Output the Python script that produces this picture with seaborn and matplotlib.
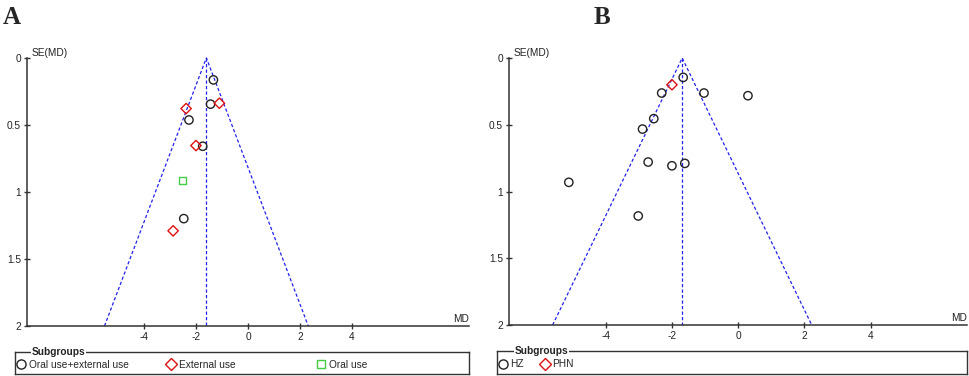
import numpy as np
import pandas as pd
import seaborn as sns
import matplotlib.pyplot as plt
from matplotlib.lines import Line2D

# panel A: mean difference vs standard error, by subgroup
md_a = [-1.33, -1.44, -2.27, -1.74, -2.47, -1.10, -2.38, -2.00, -2.88, -2.51]
se_a = [0.164, 0.345, 0.463, 0.659, 1.199, 0.338, 0.378, 0.654, 1.29, 0.916]
grp_a = ['Oral use+external use', 'Oral use+external use', 'Oral use+external use',
         'Oral use+external use', 'Oral use+external use',
         'External use', 'External use', 'External use', 'External use',
         'Oral use']
pooled_a = -1.6

# panel B
md_b = [-1.67, -2.32, -1.04, 0.29, -2.56, -2.90, -2.73, -2.01, -1.62, -5.13, -3.03, -2.01]
se_b = [0.145, 0.262, 0.262, 0.282, 0.454, 0.532, 0.779, 0.807, 0.789, 0.931, 1.183, 0.20]
grp_b = ['HZ', 'HZ', 'HZ', 'HZ', 'HZ', 'HZ', 'HZ', 'HZ', 'HZ', 'HZ', 'HZ', 'PHN']
pooled_b = -1.7

se_max = 2.0
xticks = [-4, -2, 0, 2, 4]
yticks = [0, 0.5, 1, 1.5, 2]

styles = {
    'Oral use+external use': ('o', '#222222', 36),
    'External use': ('D', '#e01010', 28),
    'Oral use': ('s', '#44cc44', 26),
    'HZ': ('o', '#222222', 36),
    'PHN': ('D', '#e01010', 28),
}

FS = 7.3

sns.set_style('ticks')
plt.rcParams['font.family'] = ['Liberation Sans', 'DejaVu Sans']
plt.rcParams['axes.unicode_minus'] = False

fig = plt.figure(figsize=(9.69, 3.76), dpi=100)


def funnel(ax, md, se, grp, pooled, xlim):
    df = pd.DataFrame({'MD': md, 'SE': se, 'group': grp})
    blue = '#2020ee'
    dash = (0, (2.6, 1.8))
    ax.plot([pooled - 1.96 * se_max, pooled, pooled + 1.96 * se_max], [se_max, 0, se_max],
            color=blue, lw=0.9, ls=dash, clip_on=False, zorder=2)
    ax.plot([pooled, pooled], [0, se_max], color=blue, lw=0.9, ls=dash, clip_on=False, zorder=2)
    handles = []
    for g in dict.fromkeys(grp):
        m, c, s = styles[g]
        sub = df[df['group'] == g]
        sns.scatterplot(data=sub, x='MD', y='SE', marker=m, s=s, color=c, ax=ax,
                        linewidth=1.0, zorder=3, legend=False, clip_on=False)
        pts = ax.collections[-1]
        pts.set_facecolor('none')
        pts.set_edgecolor(c)
        handles.append(Line2D([], [], marker=m, ls='none', mfc='none', mec=c, mew=1.0,
                              ms=np.sqrt(s) * 1.1, label=g))
    ax.set_xlim(*xlim)
    ax.set_ylim(se_max, 0)
    ax.set_xticks(xticks)
    ax.set_yticks(yticks)
    ax.set_yticklabels(['0', '0.5', '1', '1.5', '2'])
    ax.set_xlabel('')
    ax.set_ylabel('')
    sns.despine(ax=ax)
    for sp in ['left', 'bottom']:
        ax.spines[sp].set_color('#333333')
        ax.spines[sp].set_linewidth(1.1)
    ax.tick_params(direction='inout', length=5, width=1, color='#333333',
                   labelsize=FS, pad=2, labelcolor='#222222')
    ax.text(0.011, 1.0, 'SE(MD)', transform=ax.transAxes, ha='left', va='bottom',
            fontsize=FS, color='#222222')
    ax.text(1.0, 0.008, 'MD', transform=ax.transAxes, ha='right', va='bottom',
            fontsize=FS, color='#222222')
    return handles


def legend_box(rect, handles, xpos):
    lax = fig.add_axes(rect)
    lax.set_xticks([])
    lax.set_yticks([])
    lax.set_facecolor('none')
    for sp in lax.spines.values():
        sp.set_visible(True)
        sp.set_color('#333333')
        sp.set_linewidth(1.0)
    lax.text(0.037, 1.0, 'Subgroups', transform=lax.transAxes,
             ha='left', va='center', fontsize=FS, fontweight='bold', color='#222222',
             bbox=dict(fc='white', ec='none', pad=0.5))
    for i, (h, x0) in enumerate(zip(handles, xpos)):
        leg = lax.legend(handles=[h], loc='center left', frameon=False, fontsize=FS,
                         handletextpad=0.3, handlelength=0.9, borderaxespad=0,
                         borderpad=0, bbox_to_anchor=(x0 - 0.004, 0.0, 0.3, 0.82))
        if i < len(handles) - 1:
            lax.add_artist(leg)


ax_a = fig.add_axes([0.0279, 0.133, 0.456, 0.713])
h_a = funnel(ax_a, md_a, se_a, grp_a, pooled_a, (-8.5, 8.5))
ax_b = fig.add_axes([0.5253, 0.1356, 0.4727, 0.710])
h_b = funnel(ax_b, md_b, se_b, grp_b, pooled_b, (-6.94, 6.92))

legend_box([0.0155, 0.006, 0.4685, 0.058], h_a, [0.008, 0.338, 0.668])
legend_box([0.5129, 0.006, 0.4851, 0.061], h_b, [0.007, 0.096])

fig.text(0.003, 0.985, 'A', ha='left', va='top', fontsize=18, fontweight='bold',
         family=['Liberation Serif', 'DejaVu Serif'])
fig.text(0.613, 0.985, 'B', ha='left', va='top', fontsize=18, fontweight='bold',
         family=['Liberation Serif', 'DejaVu Serif'])

fig.savefig('out.png', dpi=100)
